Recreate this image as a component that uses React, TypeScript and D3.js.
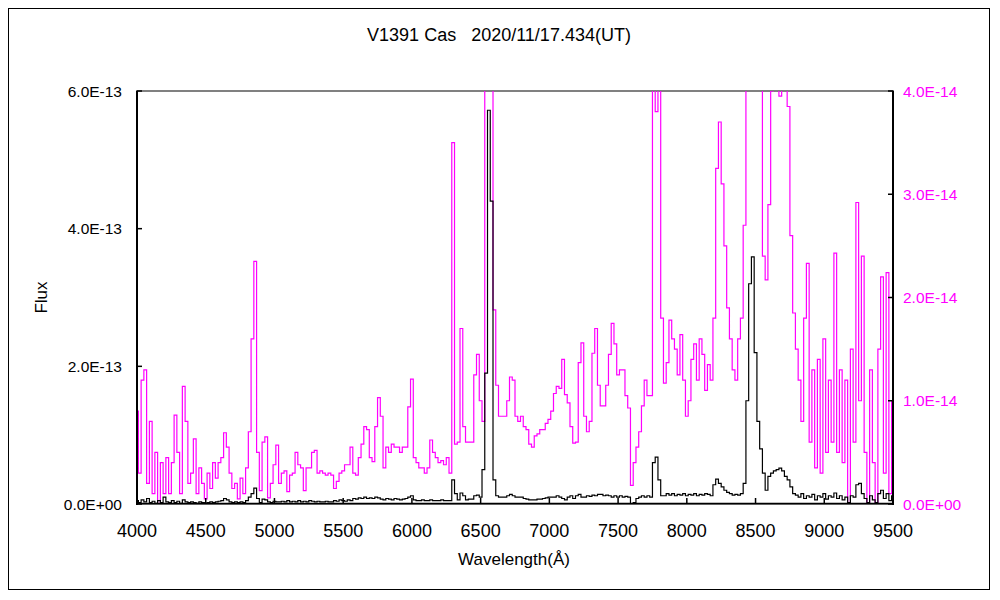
import React from "react";
import * as d3 from "d3";

// Wavelength grid (Å), 20 Å sampling
const wavelengths: number[] = d3.range(4000, 9501, 20);

// Magenta spectrum, right axis, in units of 1e-14 (rows of 25 samples = 500 Å)
const magentaFlux: number[] = [
  0.9, 0.3, 1.2, 1.3, 0.2, 0.8, 0.1, 0.5, 0.0, 0.4, 0.1, 0.45, 0.1, 0.4, 0.86, 0.5, 0.1, 1.14, 0.8, 0.2, 0.3, 0.63, 0.1, 0.35, 0.2,
  0.05, 0.3, 0.15, 0.4, 0.25, 0.4, 0.45, 0.69, 0.55, 0.3, 0.15, 0.2, 0.05, 0.25, 0.1, 0.35, 0.7, 1.6, 2.35, 0.5, 0.13, 0.6, 0.65, 0.06, 0.2,
  0.38, 0.57, 0.2, 0.3, 0.32, 0.12, 0.28, 0.3, 0.5, 0.38, 0.35, 0.13, 0.35, 0.35, 0.5, 0.52, 0.3, 0.32, 0.3, 0.28, 0.3, 0.28, 0.15, 0.22, 0.3,
  0.32, 0.38, 0.38, 0.55, 0.3, 0.28, 0.45, 0.58, 0.75, 0.72, 0.45, 0.41, 0.75, 1.03, 0.85, 0.35, 0.55, 0.5, 0.58, 0.55, 0.55, 0.5, 0.55, 0.55, 0.94,
  1.21, 0.45, 0.4, 0.35, 0.35, 0.3, 0.35, 0.62, 0.5, 0.45, 0.4, 0.42, 0.38, 0.45, 0.3, 3.5, 0.58, 0.6, 1.7, 0.75, 0.6, 0.6, 0.6, 1.25, 1.45,
  1.0, 0.8, 5, 5, 5, 1.88, 1.15, 0.85, 0.85, 0.85, 1.0, 1.23, 1.2, 0.85, 0.8, 0.85, 0.75, 0.72, 0.58, 0.55, 0.66, 0.68, 0.72, 0.72, 0.78,
  0.82, 0.9, 1.07, 1.14, 1.12, 1.4, 1.06, 0.98, 0.75, 0.59, 0.6, 1.37, 1.56, 0.85, 0.7, 0.8, 1.46, 1.7, 1.15, 0.95, 0.95, 1.15, 1.45, 1.75, 1.55,
  1.25, 1.3, 1.3, 1.05, 0.93, 0.18, 0.4, 0.55, 0.7, 0.95, 1.2, 1.05, 1.05, 5, 3.8, 5, 1.8, 1.17, 1.37, 1.78, 1.6, 1.5, 1.25, 1.64, 1.2,
  0.85, 1.0, 1.4, 1.55, 1.2, 1.6, 1.45, 1.1, 1.35, 1.2, 1.8, 3.25, 3.7, 3.1, 2.5, 1.9, 1.6, 1.3, 1.2, 1.6, 1.8, 2.7, 5, 5, 5,
  5, 5, 5, 2.4, 2.17, 2.9, 4.0, 5, 5, 3.95, 5, 5, 3.85, 2.6, 1.85, 1.5, 1.2, 0.8, 1.8, 2.33, 0.6, 1.3, 0.35, 1.4, 0.3,
  1.6, 0.5, 1.2, 0.6, 2.43, 0.5, 1.3, 0.4, 1.2, 0.0, 1.5, 0.6, 2.92, 1.0, 2.4, 0.5, 0.0, 1.3, 0.4, 0.0, 1.5, 2.2, 0.3, 2.24, 0.1,
  1.0,
];

// Black spectrum, left axis, in units of 1e-13
const blackFlux: number[] = [
  0.05, 0.02, 0.06, 0.03, 0.08, 0.02, 0.04, 0.01, 0.05, 0.02, 0.1, 0.03, 0.02, 0.05, 0.02, 0.04, 0.01, 0.06, 0.03, 0.02, 0.03, 0.02, 0.01, 0.03, 0.02,
  0.01, 0.02, 0.03, 0.02, 0.03, 0.04, 0.05, 0.08, 0.06, 0.03, 0.02, 0.03, 0.02, 0.03, 0.02, 0.05, 0.1, 0.15, 0.23, 0.08, 0.02, 0.07, 0.06, 0.03, 0.02,
  0.04, 0.03, 0.03, 0.04, 0.03, 0.05, 0.03, 0.04, 0.03, 0.05, 0.03, 0.04, 0.03, 0.05, 0.04, 0.03, 0.04, 0.03, 0.03, 0.04, 0.03, 0.03, 0.05, 0.04, 0.06,
  0.05, 0.04, 0.06, 0.05, 0.08, 0.07, 0.09, 0.08, 0.1, 0.08, 0.09, 0.08, 0.1, 0.09, 0.07, 0.06, 0.08, 0.07, 0.06, 0.08, 0.07, 0.06, 0.07, 0.08, 0.1,
  0.12, 0.06, 0.05, 0.05, 0.06, 0.05, 0.05, 0.06, 0.05, 0.05, 0.05, 0.06, 0.05, 0.05, 0.05, 0.35, 0.15, 0.06, 0.16, 0.12, 0.06, 0.07, 0.07, 0.12, 0.13,
  0.1, 0.5, 1.9, 5.72, 4.4, 0.35, 0.12, 0.1, 0.1, 0.1, 0.12, 0.14, 0.12, 0.1, 0.1, 0.1, 0.08, 0.07, 0.06, 0.06, 0.06, 0.07, 0.07, 0.08, 0.09,
  0.1, 0.1, 0.1, 0.12, 0.1, 0.08, 0.06, 0.1, 0.12, 0.08, 0.12, 0.14, 0.1, 0.1, 0.12, 0.11, 0.13, 0.12, 0.14, 0.14, 0.12, 0.13, 0.12, 0.1, 0.12,
  0.1, 0.12, 0.1, 0.11, 0.1, 0.0, 0.02, 0.08, 0.1, 0.12, 0.1, 0.12, 0.1, 0.6, 0.68, 0.35, 0.12, 0.12, 0.15, 0.13, 0.15, 0.12, 0.14, 0.13, 0.15,
  0.12, 0.14, 0.13, 0.15, 0.12, 0.14, 0.13, 0.15, 0.14, 0.12, 0.28, 0.36, 0.3, 0.25, 0.2, 0.17, 0.15, 0.13, 0.14, 0.13, 0.15, 0.3, 1.5, 3.2, 3.59,
  2.2, 1.2, 0.8, 0.45, 0.2, 0.4, 0.45, 0.48, 0.5, 0.52, 0.48, 0.4, 0.35, 0.25, 0.15, 0.13, 0.1, 0.15, 0.08, 0.12, 0.1, 0.14, 0.06, 0.12, 0.1,
  0.15, 0.07, 0.12, 0.1, 0.16, 0.08, 0.12, 0.06, 0.1, 0.02, 0.12, 0.1, 0.28, 0.3, 0.15, 0.08, 0.02, 0.12, 0.06, 0.02, 0.15, 0.2, 0.08, 0.15, 0.05,
  0.12,
];

const xTicks: number[] = [4000, 4500, 5000, 5500, 6000, 6500, 7000, 7500, 8000, 8500, 9000, 9500];
const leftTicks: number[] = [0, 2e-13, 4e-13, 6e-13];
const rightTicks: number[] = [0, 1e-14, 2e-14, 3e-14, 4e-14];

const titleText = "V1391 Cas\u00a0\u00a0\u00a02020/11/17.434(UT)";
const xLabel = "Wavelength(Å)";
const yLabel = "Flux";

const MAGENTA = "#FF00FF";
const FONT = "'Liberation Sans', Arial, sans-serif";

function fmtSci(v: number): string {
  if (v === 0) return "0.0E+00";
  const e = Math.floor(Math.log10(Math.abs(v)) + 1e-9);
  const m = v / Math.pow(10, e);
  return m.toFixed(1) + "E" + (e < 0 ? "-" : "+") + String(Math.abs(e)).padStart(2, "0");
}

export default function App() {
  const W = 1000, H = 600;
  const L = 137, R = 893, T = 91, B = 504;

  const x = d3.scaleLinear().domain([4000, 9500]).range([L, R]);
  const yL = d3.scaleLinear().domain([0, 6e-13]).range([B, T]);
  const yR = d3.scaleLinear().domain([0, 4e-14]).range([B, T]);

  const n = Math.min(wavelengths.length, magentaFlux.length, blackFlux.length);
  const magPts: [number, number][] = [];
  const blkPts: [number, number][] = [];
  for (let i = 0; i < n; i++) {
    magPts.push([wavelengths[i], magentaFlux[i] * 1e-14]);
    blkPts.push([wavelengths[i], blackFlux[i] * 1e-13]);
  }

  const magLine = d3.line<[number, number]>()
    .x(d => x(d[0]))
    .y(d => yR(d[1]))
    .curve(d3.curveStep);
  const blkLine = d3.line<[number, number]>()
    .x(d => x(d[0]))
    .y(d => yL(d[1]))
    .curve(d3.curveStep);

  return (
    <svg width={W} height={H} style={{ position: "absolute", left: 0, top: 0, background: "#fff" }}>
      <defs>
        <clipPath id="plotClip">
          <rect x={L} y={T} width={R - L} height={B - T} />
        </clipPath>
      </defs>
      <rect x={8.5} y={8.5} width={981} height={581} fill="#fff" stroke="#000" strokeWidth={1} />

      <text x={499} y={41} textAnchor="middle" fontFamily={FONT} fontSize={18} fill="#000">{titleText}</text>

      {/* plot frame */}
      <rect x={L} y={T} width={R - L} height={B - T} fill="#fff" stroke="#808080" strokeWidth={2} />

      <g clipPath="url(#plotClip)">
        <path d={magLine(magPts) || ""} fill="none" stroke={MAGENTA} strokeWidth={1.2} />
        <path d={blkLine(blkPts) || ""} fill="none" stroke="#000" strokeWidth={1.2} />
      </g>

      {/* axes */}
      <line x1={L} y1={T} x2={L} y2={B + 1} stroke="#000" strokeWidth={2} />
      <line x1={R} y1={T} x2={R} y2={B + 1} stroke="#000" strokeWidth={2} />
      <line x1={L} y1={B - 0.5} x2={R} y2={B - 0.5} stroke="#000" strokeWidth={1.5} />

      {xTicks.map(t => (
        <g key={"x" + t}>
          <line x1={x(t)} y1={B} x2={x(t)} y2={B - 6} stroke="#000" strokeWidth={1.5} />
          <text x={x(t)} y={537} textAnchor="middle" fontFamily={FONT} fontSize={18} fill="#000">{t}</text>
        </g>
      ))}

      {leftTicks.map(t => (
        <g key={"l" + t}>
          <line x1={L} y1={yL(t)} x2={L + 5} y2={yL(t)} stroke="#000" strokeWidth={1.5} />
          <text x={122} y={yL(t) + 5.5} textAnchor="end" fontFamily={FONT} fontSize={15.5} fill="#000">{fmtSci(t)}</text>
        </g>
      ))}

      {rightTicks.map(t => (
        <g key={"r" + t}>
          <line x1={R} y1={yR(t)} x2={R - 5} y2={yR(t)} stroke="#000" strokeWidth={1.5} />
          <text x={903} y={yR(t) + 5.5} textAnchor="start" fontFamily={FONT} fontSize={15.5} fill={MAGENTA}>{fmtSci(t)}</text>
        </g>
      ))}

      <text x={514} y={565} textAnchor="middle" fontFamily={FONT} fontSize={17} fill="#000">{xLabel}</text>
      <text transform={`translate(47, ${(T + B) / 2}) rotate(-90)`} textAnchor="middle" fontFamily={FONT} fontSize={17} fill="#000">{yLabel}</text>
    </svg>
  );
}
